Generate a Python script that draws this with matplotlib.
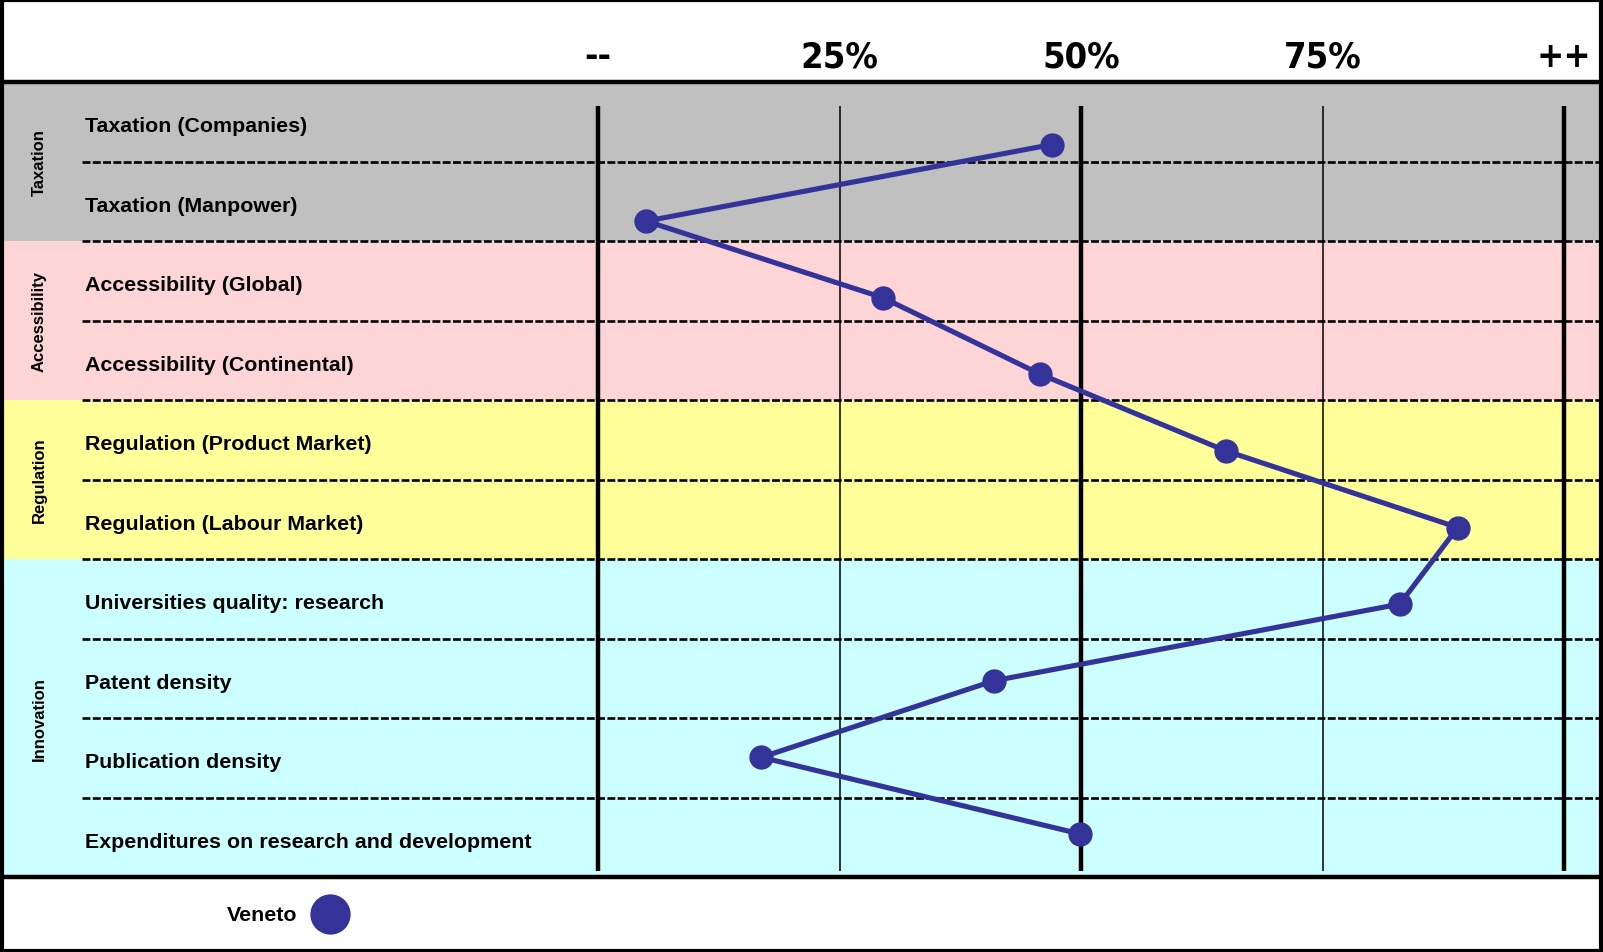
import matplotlib
matplotlib.use("Agg")
import matplotlib.pyplot as plt
import matplotlib.transforms as mtransforms
from matplotlib.patches import Rectangle

# indicators, top to bottom
indicators = ['Taxation (Companies)', 'Taxation (Manpower)',
              'Accessibility (Global)', 'Accessibility (Continental)',
              'Regulation (Product Market)', 'Regulation (Labour Market)',
              'Universities quality: research', 'Patent density',
              'Publication density', 'Expenditures on research and development']
veneto = [47.0, 5.0, 29.5, 45.8, 65.0, 89.0, 83.0, 41.0, 16.9, 49.9]

groups = ['Taxation', 'Accessibility', 'Regulation', 'Innovation']
group_sizes = [2, 2, 2, 4]
group_colors = ['#c0c0c0', '#fdd5d6', '#ffff99', '#ccffff']

tick_pos = [0, 25, 50, 75, 100]
tick_labels = ['--', '25%', '50%', '75%', '++']
series_name = 'Veneto'
line_color = '#333399'

W, H = 1603, 953
fig = plt.figure(figsize=(W / 100, H / 100), dpi=100)

# pixel layout of the panel
x0_px, x100_px = 598, 1564
top_px, row_px = 83, 79.5
px_per_unit = (x100_px - x0_px) / 100
n = len(indicators)

ax = fig.add_axes([0, 0, 1, 1])
ax.set_xlim(-x0_px / px_per_unit, (W - x0_px) / px_per_unit)
ax.set_ylim((H - top_px) / row_px, -top_px / row_px)
ax.axis('off')

# coloured group bands
start = 0
for g, size, col in zip(groups, group_sizes, group_colors):
    ax.axhspan(start, start + size, color=col, lw=0, zorder=0)
    start += size

# dashed row separators
for k in range(1, n):
    ax.axhline(k, xmin=82 / W, xmax=1, color='black', lw=1.9,
               dashes=(3.0, 0.9), zorder=1)

# vertical reference lines
for p in tick_pos:
    thick = p in (0, 50, 100)
    ax.vlines(p, 0.3, n - 0.08, color='black', lw=3.2 if thick else 1.1, zorder=2)

# header / footer lines
ax.axhline(0, color='black', lw=3.2, zorder=3)
ax.axhline(n, color='black', lw=3.2, zorder=3)

# header labels
hdr = mtransforms.blended_transform_factory(ax.transData, fig.transFigure)
for p, lab in zip(tick_pos, tick_labels):
    ax.text(p, 1 - 57 / H, lab, transform=hdr, ha='center', va='center',
            fontsize=26, fontweight='bold', fontstretch='condensed',
            family='DejaVu Sans')

# row labels
lab_tr = mtransforms.blended_transform_factory(fig.transFigure, ax.transData)
for i, name in enumerate(indicators):
    ax.text(85 / W, i + 0.55, name, transform=lab_tr, ha='left', va='center',
            fontsize=15.4, fontweight='bold', family='Liberation Sans')

# group labels
start = 0
for g, size in zip(groups, group_sizes):
    ax.text(39 / W, start + size / 2, g, transform=lab_tr, rotation=90,
            ha='center', va='center', fontsize=12, fontweight='bold',
            family='Liberation Sans')
    start += size

# series on its own vertical scale (points are slightly compressed vs rows)
ax2 = fig.add_axes([0, 0, 1, 1], sharex=ax)
ax2.patch.set_visible(False)
m0_px, m_step = 145.5, 76.6
ax2.set_ylim((H - m0_px) / m_step, -m0_px / m_step)
ax2.axis('off')
ax2.plot(veneto, range(n), color=line_color, lw=3.7, marker='o',
         markersize=16.5, zorder=5)

# legend
ax.text(227 / W, 1 - 916 / H, series_name, transform=fig.transFigure,
        ha='left', va='center', fontsize=15.4, fontweight='bold',
        family='Liberation Sans')
ax.plot([330 / W], [1 - 915 / H], 'o', transform=fig.transFigure,
        color=line_color, markersize=28, clip_on=False)

# outer border
fig.patches.append(Rectangle((0.001, 0.0015), 0.998, 0.997, fill=False,
                             lw=3, edgecolor='black',
                             transform=fig.transFigure, figure=fig))

plt.savefig('out.png', dpi=100)
